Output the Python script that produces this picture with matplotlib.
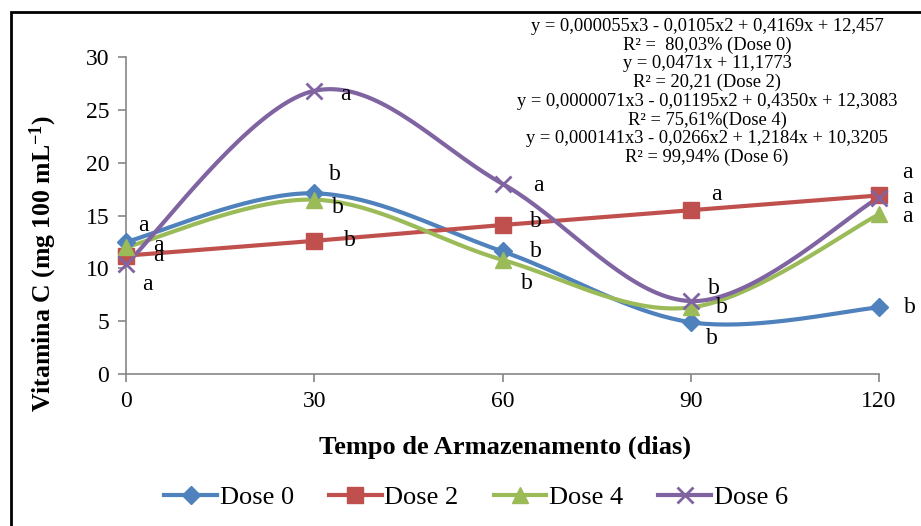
import numpy as np
import matplotlib
matplotlib.use('Agg')
import matplotlib.pyplot as plt
from matplotlib.patches import Rectangle

plt.rcParams['font.family'] = ['Liberation Serif', 'DejaVu Serif']
plt.rcParams['mathtext.fontset'] = 'custom'
plt.rcParams['mathtext.rm'] = 'Liberation Serif'
plt.rcParams['mathtext.bf'] = 'Liberation Serif:bold'

# data
dias = [0, 30, 60, 90, 120]
series = ['Dose 0', 'Dose 2', 'Dose 4', 'Dose 6']
dose0 = [12.5, 17.1, 11.6, 4.9, 6.3]
dose2 = [11.2, 12.6, 14.1, 15.5, 16.9]
dose4 = [12.0, 16.5, 10.8, 6.3, 15.1]
dose6 = [10.4, 26.8, 18.0, 6.9, 16.7]
letras0 = ['a', 'b', 'b', 'b', 'b']
letras2 = ['a', 'b', 'b', 'a', 'a']
letras4 = ['a', 'b', 'b', 'b', 'a']
letras6 = ['a', 'a', 'a', 'b', 'a']
equacao = ("y = 0,000055x3 - 0,0105x2 + 0,4169x + 12,457\n"
           "R\u00b2 =  80,03% (Dose 0)\n"
           "y = 0,0471x + 11,1773\n"
           "R\u00b2 = 20,21 (Dose 2)\n"
           "y = 0,0000071x3 - 0,01195x2 + 0,4350x + 12,3083\n"
           "R\u00b2 = 75,61%(Dose 4)\n"
           "y = 0,000141x3 - 0,0266x2 + 1,2184x + 10,3205\n"
           "R\u00b2 = 99,94% (Dose 6)")

# styles
cores = ['#4F81BD', '#C0504D', '#9BBB59', '#8064A2']
marcas = ['D', 's', '^', 'x']
tam = [9, 11, 11, 11]
# letter offsets in pixels (dx, dy) for each point
offs0 = [(17, 16), (21, 19), (33, 0), (21, -16), (31, 0)]
offs2 = [(32, 0), (36, 0), (33, 4), (26, 16), (28, 23)]
offs4 = [(32, 2), (24, -8), (24, -24), (31, 0), (28, -2)]
offs6 = [(21, -20), (31, -4), (36, -2), (23, 13), (28, 0)]


def smooth(x, y, n=40):
    # excel-like smoothed line (cardinal spline through bezier)
    x = np.asarray(x, float)
    y = np.asarray(y, float)
    px, py = [], []
    for i in range(len(x) - 1):
        i0 = max(i - 1, 0)
        i3 = min(i + 2, len(x) - 1)
        c1x = x[i] + (x[i + 1] - x[i0]) / 6
        c1y = y[i] + (y[i + 1] - y[i0]) / 6
        c2x = x[i + 1] - (x[i3] - x[i]) / 6
        c2y = y[i + 1] - (y[i3] - y[i]) / 6
        t = np.linspace(0, 1, n)
        b0 = (1 - t) ** 3
        b1 = 3 * (1 - t) ** 2 * t
        b2 = 3 * (1 - t) * t ** 2
        b3 = t ** 3
        px.extend(b0 * x[i] + b1 * c1x + b2 * c2x + b3 * x[i + 1])
        py.extend(b0 * y[i] + b1 * c1y + b2 * c2y + b3 * y[i + 1])
    return np.array(px), np.array(py)


fig = plt.figure(figsize=(9.21, 5.26), dpi=100)
ax = fig.add_axes([126 / 921, 1 - 374 / 526, 753 / 921, 317 / 526])

dados = [dose0, dose2, dose4, dose6]
letras = [letras0, letras2, letras4, letras6]
offs = [offs0, offs2, offs4, offs6]
for k in range(4):
    if k == 1:
        sx, sy = np.array(dias, float), np.array(dados[k], float)
    else:
        sx, sy = smooth(dias, dados[k])
    ax.plot(sx, sy, color=cores[k], lw=3, clip_on=False, zorder=3)
    mew = 2 if marcas[k] == 'x' else 1
    ax.plot(dias, dados[k], ls='none', marker=marcas[k], ms=tam[k],
            color=cores[k], mew=mew, clip_on=False, zorder=4)
    ax.plot([], [], color=cores[k], lw=3, marker=marcas[k], ms=tam[k],
            mew=mew, label=series[k])
    for xi, yi, le, (dx, dy) in zip(dias, dados[k], letras[k], offs[k]):
        ax.annotate(le, (xi, yi), xytext=(dx * 0.72, dy * 0.72),
                    textcoords='offset points', ha='center', va='center',
                    fontsize=17, zorder=5)

ax.set_xlim(0, 120)
ax.set_ylim(0, 30)
ax.set_xticks(dias)
ax.set_yticks(range(0, 31, 5))
for s in ['top', 'right']:
    ax.spines[s].set_visible(False)
for s in ['left', 'bottom']:
    ax.spines[s].set_color('#868686')
    ax.spines[s].set_linewidth(1.2)
ax.tick_params(direction='out', length=6, width=1.2, color='#868686',
               labelsize=17, pad=6)
ax.set_xlabel('Tempo de Armazenamento (dias)', fontsize=19,
              fontweight='bold', va='center')
ax.xaxis.set_label_coords(0.503, -(447 - 374) / 317)
ax.set_ylabel('Vitamina C (mg 100 mL$\\mathbf{^{-1}}$)', fontsize=18.5,
              fontweight='bold', va='center')
ax.yaxis.set_label_coords((43 - 126) / 753, (374 - 264) / 317)

fig.text(707 / 921, 1 - 18 / 526, equacao, ha='center', va='top',
         fontsize=13.3, linespacing=1.12)

fig.legend(loc='center', bbox_to_anchor=(476 / 921, 1 - 497 / 526), ncol=4,
           frameon=False, fontsize=19, handlelength=2.0, columnspacing=1.33,
           handletextpad=0.1, borderpad=0, borderaxespad=0)

fig.add_artist(Rectangle((11 / 921, -0.1), 1.2, 1.1 - 12 / 526,
                         transform=fig.transFigure, fill=False,
                         lw=2, ec='black'))

fig.savefig('out.png', dpi=100)
